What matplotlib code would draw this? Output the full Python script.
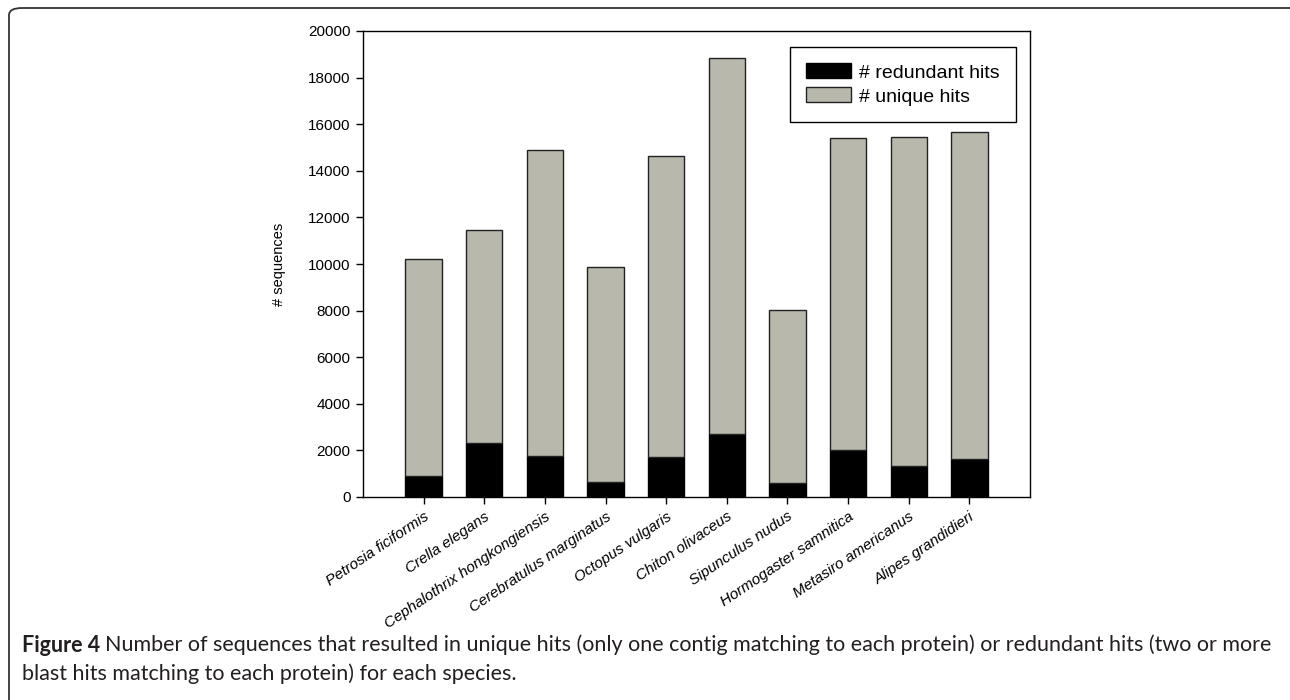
import matplotlib.pyplot as plt
from matplotlib.patches import FancyBboxPatch

species = ["Petrosia ficiformis", "Crella elegans", "Cephalothrix hongkongiensis",
           "Cerebratulus marginatus", "Octopus vulgaris", "Chiton olivaceus",
           "Sipunculus nudus", "Hormogaster samnitica", "Metasiro americanus",
           "Alipes grandidieri"]
redundant = [900, 2300, 1770, 640, 1700, 2720, 610, 2000, 1320, 1630]
total = [10200, 11450, 14880, 9890, 14620, 18850, 8020, 15410, 15460, 15670]
unique = [t - r for t, r in zip(total, redundant)]
yticks = list(range(0, 20001, 2000))

plt.rcParams['font.family'] = ['Liberation Sans', 'DejaVu Sans']

fig = plt.figure(figsize=(12.9, 7), dpi=100)
ax = fig.add_axes([363 / 1290, 1 - 497 / 700, (1030 - 363) / 1290, (497 - 31) / 700])

x = list(range(len(species)))
ax.bar(x, redundant, width=0.6, color="black", edgecolor="black", linewidth=1,
       label="# redundant hits")
ax.bar(x, unique, width=0.6, bottom=redundant, color="#b8b8ac", edgecolor="#222222",
       linewidth=1, label="# unique hits")

ax.set_xlim(-1, 10)
ax.set_ylim(0, 20000)
ax.set_yticks(yticks)
ax.set_yticklabels([str(v) for v in yticks], fontsize=11)
ax.set_xticks(x)
ax.set_xticklabels(species, rotation=34, ha="right", rotation_mode="anchor",
                   fontsize=11, style="italic")
ax.tick_params(direction="out", length=5, width=1, pad=4)
ax.set_ylabel("# sequences", fontsize=10.5, labelpad=16)
for s in ax.spines.values():
    s.set_linewidth(1)

leg = ax.legend(loc="upper right", bbox_to_anchor=(0.979, 0.966), borderaxespad=0,
                fontsize=14, frameon=True, fancybox=False, edgecolor="black",
                framealpha=1, handlelength=2.3, handleheight=0.8, borderpad=0.85,
                labelspacing=0.3, handletextpad=0.4)
leg.get_frame().set_linewidth(1)

# outer rounded frame
frame = FancyBboxPatch((9 / 1290, 1 - 720 / 700), (1320 - 9) / 1290, (720 - 8) / 700,
                       boxstyle="round,pad=0,rounding_size=0.01",
                       transform=fig.transFigure, fill=False, edgecolor="#333333",
                       linewidth=1.3, clip_on=False)
fig.patches.append(frame)

# caption
cap_font = ['Lato', 'DejaVu Sans']
t1 = fig.text(22 / 1290, 1 - 645 / 700, "Figure 4", fontsize=15.5, weight="bold",
              family=cap_font, color="#231f20", va="center")
fig.canvas.draw()
bb = t1.get_window_extent()
fig.text((bb.x1 + 5) / 1290, 1 - 645 / 700,
         "Number of sequences that resulted in unique hits (only one contig matching to each protein) or redundant hits (two or more",
         fontsize=15.5, family=cap_font, color="#231f20", va="center")
fig.text(22 / 1290, 1 - 674 / 700,
         "blast hits matching to each protein) for each species.",
         fontsize=15.5, family=cap_font, color="#231f20", va="center")

plt.savefig("out.png", dpi=100)
